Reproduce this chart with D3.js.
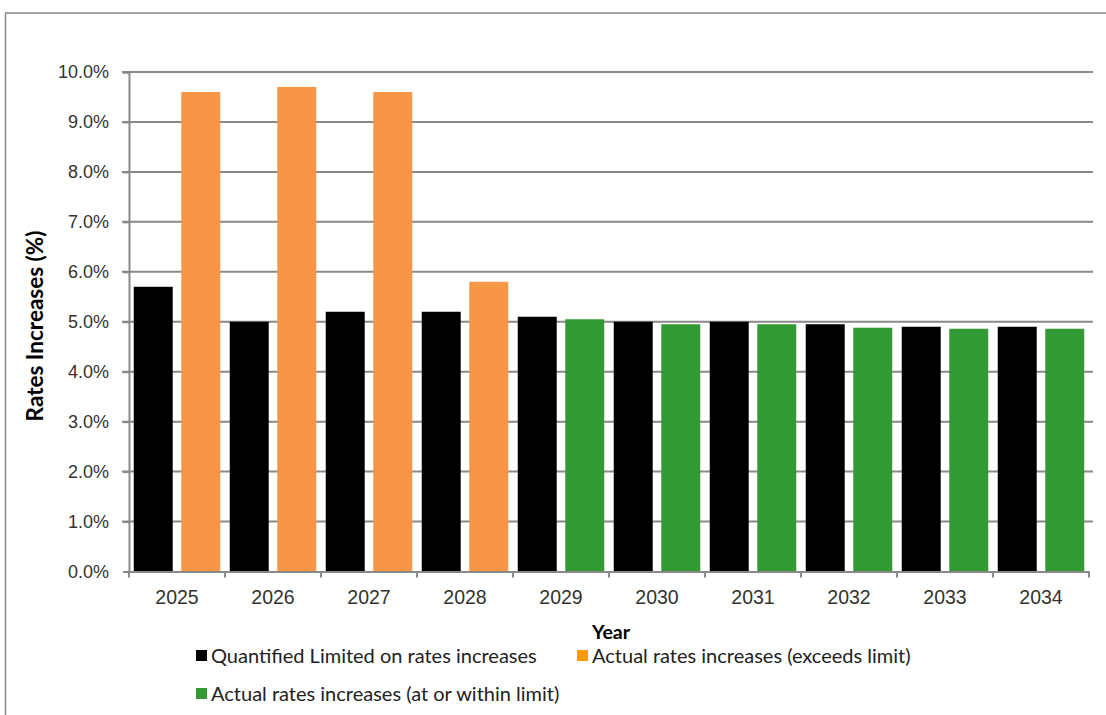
<!DOCTYPE html>
<html>
<head>
<meta charset="utf-8">
<script src="https://cdn.jsdelivr.net/npm/d3@7"></script>
<style>
  body { margin: 0; background: #fff; }
  svg { font-family: Lato, "Open Sans", sans-serif; }
</style>
</head>
<body>
<div id="chart"></div>
<script>
// chart data
var years = ['2025', '2026', '2027', '2028', '2029', '2030', '2031', '2032', '2033', '2034'];
var limitValues = [5.7, 5.0, 5.2, 5.2, 5.1, 5.0, 5.0, 4.95, 4.9, 4.9];
var actualValues = [9.6, 9.7, 9.6, 5.8, 5.05, 4.95, 4.95, 4.88, 4.86, 4.86];
var yTicks = [0, 1, 2, 3, 4, 5, 6, 7, 8, 9, 10];
var legendLabels = [
    'Quantified Limited on rates increases',
    'Actual rates increases (exceeds limit)',
    'Actual rates increases (at or within limit)'
];

var width = 1106;
var height = 715;

var colLimit = '#000000';
var colExceed = '#F79646';
var colWithin = '#339933';
var legendColors = ['#000000', '#FF9900', '#339933'];

var svg = d3.select('#chart').append('svg')
    .attr('width', width)
    .attr('height', height);

// outer frame
svg.append('rect')
    .attr('x', 5.5)
    .attr('y', 13)
    .attr('width', width + 20)
    .attr('height', height + 20)
    .attr('fill', 'none')
    .attr('stroke', '#888')
    .attr('stroke-width', 1.5);

// scales
var x0 = d3.scaleBand().domain(years).range([129, 1089]).padding(0);
var x1 = d3.scaleBand().domain(['limit', 'actual'])
    .range([0, x0.bandwidth()])
    .paddingInner(0.18)
    .paddingOuter(0.1);
var y = d3.scaleLinear().domain([0, 10]).range([571.5, 72]);

// gridlines
svg.append('g')
    .selectAll('line')
    .data(yTicks.slice(1))
    .enter().append('line')
    .attr('x1', 122)
    .attr('x2', 1093)
    .attr('y1', function (d) { return y(d); })
    .attr('y2', function (d) { return y(d); })
    .attr('stroke', '#898989')
    .attr('stroke-width', 2);

// bars
var rows = years.map(function (yr, i) {
    return { year: yr, limit: limitValues[i], actual: actualValues[i] };
});

var groups = svg.append('g').selectAll('g')
    .data(rows)
    .enter().append('g')
    .attr('transform', function (d) { return 'translate(' + x0(d.year) + ',0)'; });

groups.append('rect')
    .attr('x', x1('limit'))
    .attr('width', x1.bandwidth())
    .attr('y', function (d) { return y(d.limit); })
    .attr('height', function (d) { return y(0) - y(d.limit); })
    .attr('fill', colLimit);

groups.append('rect')
    .attr('x', x1('actual'))
    .attr('width', x1.bandwidth())
    .attr('y', function (d) { return y(d.actual); })
    .attr('height', function (d) { return y(0) - y(d.actual); })
    .attr('fill', function (d) { return d.actual > d.limit ? colExceed : colWithin; });

// y axis
var yAxis = svg.append('g')
    .attr('transform', 'translate(129,0)')
    .call(d3.axisLeft(y).tickValues(yTicks).tickSize(6).tickPadding(14)
        .tickFormat(function (d) { return d.toFixed(1) + '%'; }));
yAxis.select('.domain').attr('stroke', '#898989').attr('stroke-width', 2);
yAxis.selectAll('.tick line').attr('stroke', '#898989').attr('stroke-width', 2);
yAxis.selectAll('.tick text')
    .attr('fill', '#333')
    .style('font-size', '18px');

// x axis
var xAxis = svg.append('g')
    .attr('transform', 'translate(0,' + y(0) + ')')
    .call(d3.axisBottom(x0).tickSize(0).tickPadding(19));
xAxis.select('.domain').attr('stroke', '#898989').attr('stroke-width', 2);
xAxis.selectAll('.tick text')
    .attr('fill', '#333')
    .style('font-size', '19.5px');

// x boundary ticks
var bounds = years.map(function (d) { return x0(d); }).concat([x0.range()[1]]);
xAxis.selectAll('.bound')
    .data(bounds)
    .enter().append('line')
    .attr('x1', function (d) { return d; })
    .attr('x2', function (d) { return d; })
    .attr('y1', 0)
    .attr('y2', 6)
    .attr('stroke', '#898989')
    .attr('stroke-width', 2);

// axis titles
svg.append('text')
    .attr('x', 611)
    .attr('y', 639)
    .attr('text-anchor', 'middle')
    .style('font-size', '19.5px')
    .style('font-weight', 'bold')
    .text('Year');

svg.append('text')
    .attr('transform', 'translate(43,326) rotate(-90)')
    .attr('text-anchor', 'middle')
    .style('font-size', '22.5px')
    .style('font-weight', 'bold')
    .text('Rates Increases (%)');

// legend
var legendPos = [[196, 656], [577, 656], [196, 694]];
var legend = svg.append('g').selectAll('g')
    .data(legendLabels)
    .enter().append('g')
    .attr('transform', function (d, i) {
        return 'translate(' + legendPos[i][0] + ',' + legendPos[i][1] + ')';
    });

legend.append('rect')
    .attr('x', 0)
    .attr('y', -6)
    .attr('width', 11)
    .attr('height', 11)
    .attr('fill', function (d, i) { return legendColors[i]; });

legend.append('text')
    .attr('x', 15)
    .attr('y', 0)
    .attr('dy', '0.35em')
    .attr('fill', '#222')
    .style('font-size', '20px')
    .text(function (d) { return d; });
</script>
</body>
</html>
